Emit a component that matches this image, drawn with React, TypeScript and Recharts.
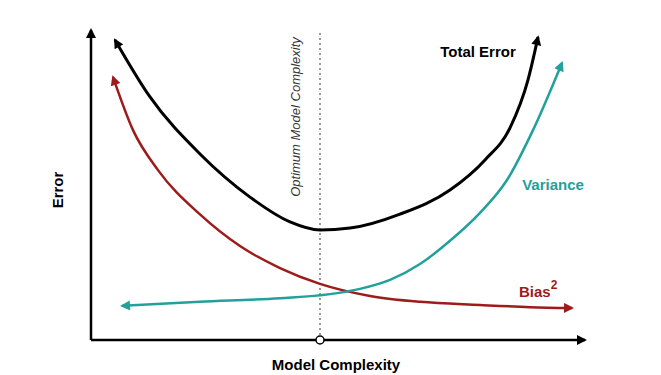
import React from 'react'
import { LineChart, Line, XAxis, YAxis, ReferenceLine, ReferenceDot } from 'recharts'

// model complexity (x) vs error (y), both on a 0..10 scale
const totalX = [0.48, 1.18, 2.18, 3.18, 3.98, 4.58, 5.18, 6.18, 7.18, 7.88, 8.38, 8.74, 8.94]
const totalY = [9.68, 7.84, 6.0, 4.61, 3.81, 3.55, 3.61, 4.06, 4.84, 5.81, 6.84, 8.39, 9.77]

const biasX = [0.44, 0.84, 1.34, 2.18, 2.98, 3.78, 4.58, 5.58, 6.58, 7.78, 8.78, 9.62]
const biasY = [8.48, 6.77, 5.48, 4.05, 3.03, 2.32, 1.81, 1.42, 1.23, 1.13, 1.06, 1.03]

const varX = [0.62, 2.18, 3.78, 4.78, 5.38, 5.98, 6.58, 7.18, 7.78, 8.32, 8.84, 9.42]
const varY = [1.1, 1.23, 1.35, 1.48, 1.65, 1.94, 2.45, 3.2, 4.1, 5.16, 6.77, 8.94]

const yAxisX = [0, 0]
const yAxisY = [0, 10]
const xAxisX = [0, 9.88]
const xAxisY = [0, 0]

const optimum = 4.58

const toPoints = (xs: number[], ys: number[]) => xs.map((x, i) => ({ x, y: ys[i] }))

const arrow = (id: string, color: string) => (
  <marker
    id={id}
    viewBox="0 0 10 10"
    refX="8"
    refY="5"
    markerWidth="12"
    markerHeight="10"
    markerUnits="userSpaceOnUse"
    orient="auto-start-reverse"
  >
    <path d="M0,0 L10,5 L0,10 z" fill={color} />
  </marker>
)

const RED = '#9e1b1b'
const TEAL = '#24a09b'
const font = 'Liberation Sans, Arial, sans-serif'

export default function App() {
  return (
    <div style={{ position: 'absolute', left: 0, top: 0 }}>
      <LineChart width={661} height={375} margin={{ top: 30, right: 70, bottom: 35, left: 91 }}>
        <defs>
          {arrow('arrowBlack', '#000')}
          {arrow('arrowRed', RED)}
          {arrow('arrowTeal', TEAL)}
        </defs>
        <XAxis type="number" dataKey="x" domain={[0, 10]} hide />
        <YAxis type="number" dataKey="y" domain={[0, 10]} hide />
        <ReferenceLine x={optimum} stroke="#777" strokeWidth={1.5} strokeDasharray="2 3" />
        <Line data={toPoints(yAxisX, yAxisY)} dataKey="y" stroke="#000" strokeWidth={2.5}
          dot={false} activeDot={false} isAnimationActive={false} markerEnd="url(#arrowBlack)" />
        <Line data={toPoints(xAxisX, xAxisY)} dataKey="y" stroke="#000" strokeWidth={2.5}
          dot={false} activeDot={false} isAnimationActive={false} markerEnd="url(#arrowBlack)" />
        <Line data={toPoints(totalX, totalY)} dataKey="y" type="monotone" stroke="#000" strokeWidth={3}
          dot={false} activeDot={false} isAnimationActive={false}
          markerStart="url(#arrowBlack)" markerEnd="url(#arrowBlack)" />
        <Line data={toPoints(biasX, biasY)} dataKey="y" type="monotone" stroke={RED} strokeWidth={2.5}
          dot={false} activeDot={false} isAnimationActive={false}
          markerStart="url(#arrowRed)" markerEnd="url(#arrowRed)" />
        <Line data={toPoints(varX, varY)} dataKey="y" type="monotone" stroke={TEAL} strokeWidth={2.5}
          dot={false} activeDot={false} isAnimationActive={false}
          markerStart="url(#arrowTeal)" markerEnd="url(#arrowTeal)" />
        <ReferenceDot x={optimum} y={0} r={4} fill="#fff" stroke="#000" strokeWidth={1.5} />

        <text x={478} y={57} textAnchor="middle" fontFamily={font} fontWeight="bold" fontSize={15} fill="#000">Total Error</text>
        <text x={553} y={190} textAnchor="middle" fontFamily={font} fontWeight="bold" fontSize={15} fill={TEAL}>Variance</text>
        <text x={519} y={297} fontFamily={font} fontWeight="bold" fontSize={15} fill={RED}>
          Bias<tspan dy={-8} fontSize={12}>2</tspan>
        </text>
        <text x={336} y={370} textAnchor="middle" fontFamily={font} fontWeight="bold" fontSize={15} fill="#000">Model Complexity</text>
        <text transform="translate(63,190) rotate(-90)" textAnchor="middle" fontFamily={font} fontWeight="bold" fontSize={15} fill="#000">Error</text>
        <text transform="translate(300,117) rotate(-90)" textAnchor="middle" fontFamily={font} fontStyle="italic" fontSize={13} fill="#333">Optimum Model Complexity</text>
      </LineChart>
    </div>
  )
}
